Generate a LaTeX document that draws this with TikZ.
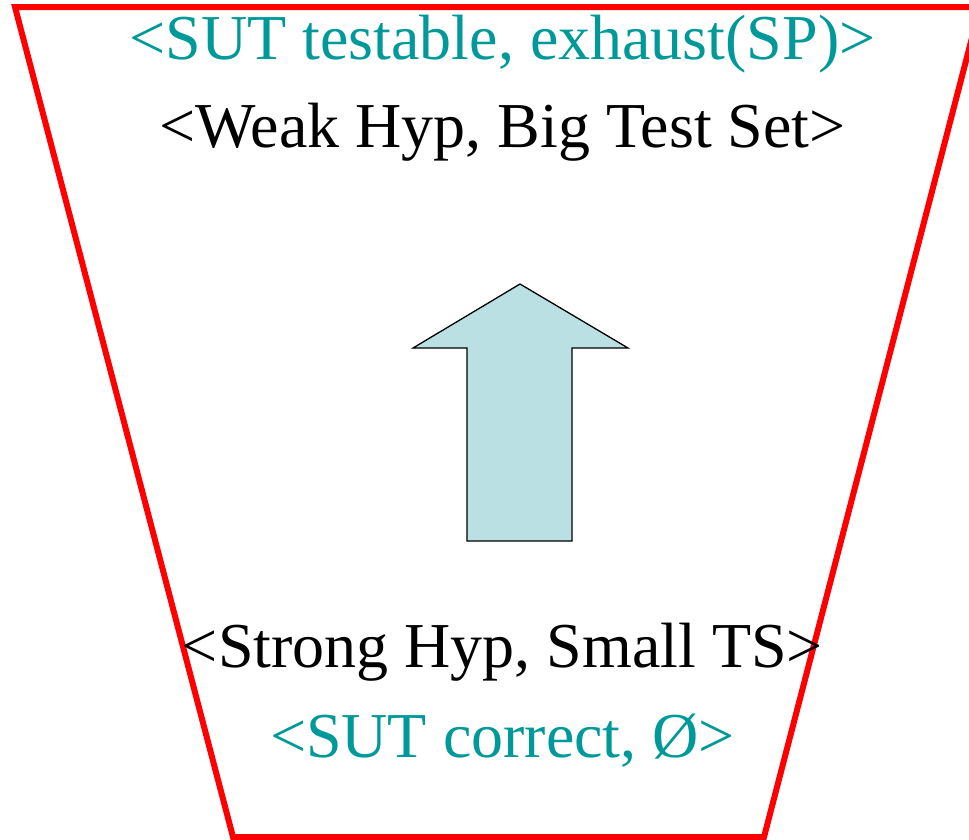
\documentclass[tikz,border=0pt]{standalone}
\usepackage{fontspec}
\setmainfont{Liberation Serif}
\definecolor{tealtext}{HTML}{009999}
\definecolor{arrowfill}{HTML}{BBE0E3}
\definecolor{framered}{HTML}{FF0000}
\tikzset{
  bigtext/.style={anchor=base, inner sep=0pt, font=\fontsize{64}{70}\selectfont},
  tealline/.style={bigtext, text=tealtext},
  blackline/.style={bigtext, text=black},
  frame/.style={draw=framered, line width=6pt, line join=miter},
  uparrow/.style={draw=black, fill=arrowfill, line width=1.3pt, line join=miter}
}
\begin{document}
\begin{tikzpicture}[x=1pt,y=-1pt]
\useasboundingbox (0,0) rectangle (969,839);
\clip (0,0) rectangle (969,839);
\fill[white] (0,0) rectangle (969,839);
\draw[frame] (15,7) -- (980,7) -- (764,837) -- (233,837) -- cycle;
\draw[uparrow] (520,284) -- (628,348) -- (572,348) -- (572,541) -- (467,541) -- (467,348) -- (413,348) -- cycle;
\node[tealline] (l1) at (502.5,59) {<SUT testable, exhaust(SP)>};
\node[blackline] (l2) at (502.5,147) {<Weak Hyp, Big Test Set>};
\node[blackline] (l3) at (502.5,667) {<Strong Hyp, Small TS>};
\node[tealline] (l4) at (502.5,757) {<SUT correct, Ø>};
\end{tikzpicture}
\end{document}
